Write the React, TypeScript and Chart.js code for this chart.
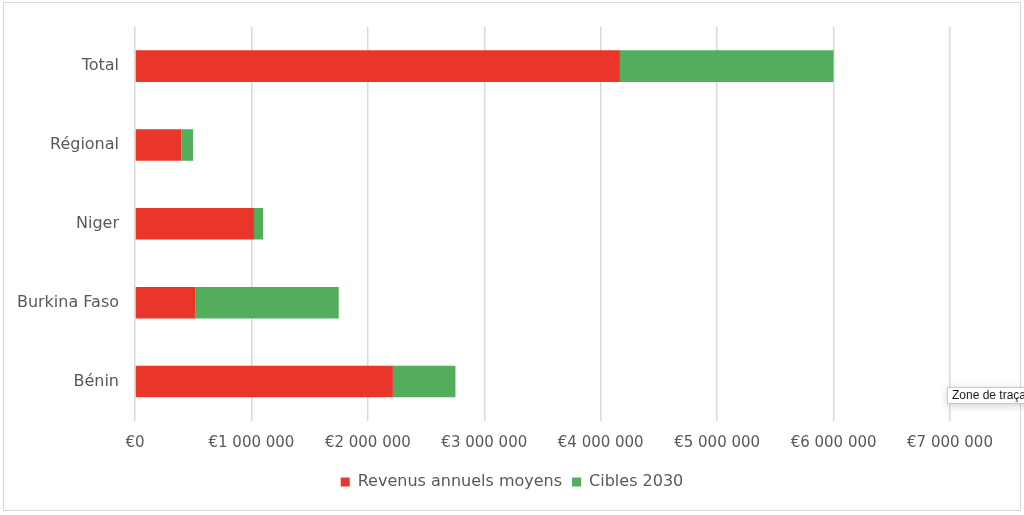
import { useRef, useEffect } from "react";
import { Chart, ChartConfiguration, registerables } from "chart.js";

Chart.register(...registerables);

const categories = ["Total", "Régional", "Niger", "Burkina Faso", "Bénin"];
const revenus = [4165000, 398000, 1022000, 520000, 2215000];
const cibles = [1835000, 100000, 78000, 1230000, 537000];
const tickValues = [0, 1000000, 2000000, 3000000, 4000000, 5000000, 6000000, 7000000];

const RED = "#E9352A";
const GREEN = "#52AD5D";
const TEXT = "#595959";
const GRID = "#D9D9D9";
const FONT = "'DejaVu Sans', Verdana, sans-serif";

function formatEuro(v: number) {
  return "€" + v.toLocaleString("fr-FR").replace(/[\u202F\u00A0]/g, " ");
}

export default function App() {
  const chartRef = useRef<HTMLCanvasElement>(null);
  const chartInstanceRef = useRef<Chart | null>(null);

  useEffect(() => {
    if (!chartRef.current) return;
    if (chartInstanceRef.current) chartInstanceRef.current.destroy();
    const ctx = chartRef.current.getContext("2d");
    if (!ctx) return;

    const config: ChartConfiguration = {
      type: "bar",
      data: {
        labels: categories,
        datasets: [
          {
            label: "Revenus annuels moyens",
            data: revenus,
            backgroundColor: RED,
            borderWidth: 0,
            categoryPercentage: 1,
            barPercentage: 0.4,
          },
          {
            label: "Cibles 2030",
            data: cibles,
            backgroundColor: GREEN,
            borderWidth: 0,
            categoryPercentage: 1,
            barPercentage: 0.4,
          },
        ],
      },
      options: {
        indexAxis: "y",
        responsive: true,
        maintainAspectRatio: false,
        animation: false,
        layout: { padding: { top: 26.7, bottom: 15, left: 0, right: 0 } },
        plugins: {
          tooltip: { enabled: false },
          legend: {
            position: "bottom",
            labels: {
              color: TEXT,
              boxWidth: 9,
              boxHeight: 9,
              padding: 10,
              font: { family: FONT, size: 16 },
            },
          },
        },
        scales: {
          x: {
            stacked: true,
            min: 0,
            max: 7000000,
            afterBuildTicks: (scale: any) => {
              scale.ticks = tickValues.map((v) => ({ value: v }));
            },
            afterFit: (scale: any) => {
              scale.height = 43;
            },
            ticks: {
              color: TEXT,
              padding: 13,
              maxRotation: 0,
              font: { family: FONT, size: 15 },
              callback: (v: any) => formatEuro(Number(v)),
            },
            grid: { color: GRID, lineWidth: 1.5, drawTicks: false },
            border: { display: false },
          },
          y: {
            stacked: true,
            afterFit: (scale: any) => {
              scale.width = 135;
            },
            ticks: {
              color: TEXT,
              padding: 16,
              font: { family: FONT, size: 16 },
            },
            grid: { display: false, drawTicks: false },
            border: { display: false },
          },
          // empty right-hand spacer so the legend stays centred on the whole canvas
          yRight: {
            type: "linear",
            position: "right",
            afterFit: (scale: any) => {
              scale.width = 74;
            },
            ticks: { display: false },
            grid: { display: false, drawTicks: false },
            border: { display: false },
          },
        },
      },
    };

    chartInstanceRef.current = new Chart(ctx, config);

    return () => {
      if (chartInstanceRef.current) {
        chartInstanceRef.current.destroy();
        chartInstanceRef.current = null;
      }
    };
  }, []);

  return (
    <div
      style={{
        position: "absolute",
        left: 0,
        top: 0,
        width: 1024,
        height: 515,
        overflow: "hidden",
        background: "#fff",
      }}
    >
      <div
        style={{
          position: "absolute",
          left: 3,
          top: 2,
          width: 1018,
          height: 509,
          border: `1px solid ${GRID}`,
          boxSizing: "border-box",
        }}
      />
      <div style={{ position: "absolute", left: 0, top: 0, width: 1024, height: 515 }}>
        <canvas ref={chartRef}></canvas>
      </div>
      <div
        style={{
          position: "absolute",
          left: 947,
          top: 387,
          height: 15,
          padding: "0 4px",
          background: "#fff",
          border: "1px solid #C8C8C8",
          boxShadow: "0 2px 8px rgba(0,0,0,0.18)",
          font: "12px 'Liberation Sans', Arial, sans-serif",
          lineHeight: "15px",
          color: "#1a1a1a",
          whiteSpace: "nowrap",
        }}
      >
        Zone de traçage
      </div>
    </div>
  );
}
